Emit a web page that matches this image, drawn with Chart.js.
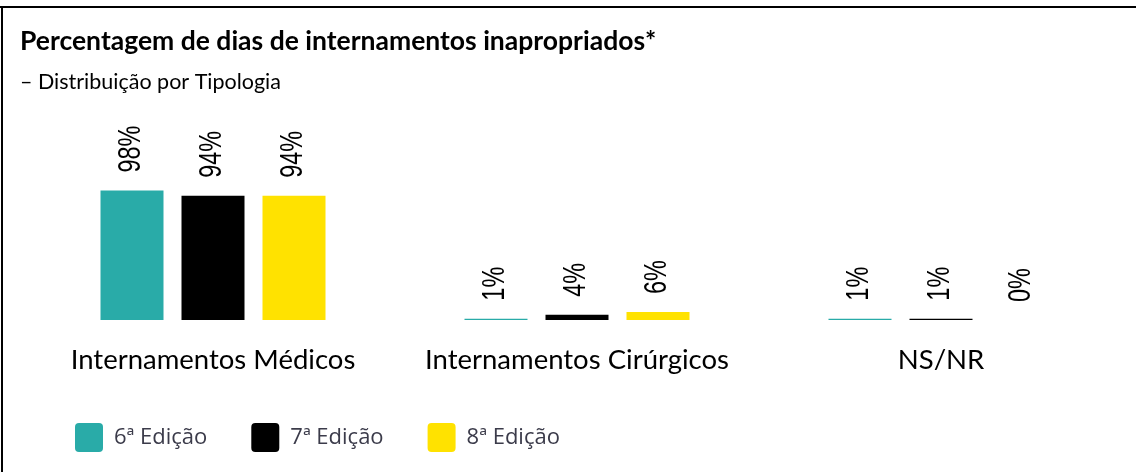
<!DOCTYPE html>
<html lang="pt">
<head>
<meta charset="utf-8">
<title>Percentagem de dias de internamentos inapropriados</title>
<script src="https://cdn.jsdelivr.net/npm/chart.js@4.4.1/dist/chart.umd.min.js"></script>
<style>
  html, body { margin: 0; padding: 0; background: #fff; }
  #grafico { display: block; }
</style>
</head>
<body>
<canvas id="grafico" width="1136" height="472"></canvas>
<script>
// ------------------------------------------------------------
// Dados
// ------------------------------------------------------------
var categorias = ["Internamentos Médicos", "Internamentos Cirúrgicos", "NS/NR"];
var edicoes = ["6ª Edição", "7ª Edição", "8ª Edição"];
var edicao6 = [98, 1, 1];
var edicao7 = [94, 4, 1];
var edicao8 = [94, 6, 0];
var cores = ["#29aba8", "#000000", "#ffe200"];

var series = [edicao6, edicao7, edicao8];

// ------------------------------------------------------------
// Moldura (linha superior e lateral esquerda)
// ------------------------------------------------------------
var molduraPlugin = {
	id: "moldura",
	beforeDraw: function (chart) {
		var ctx = chart.ctx;
		ctx.save();
		ctx.fillStyle = "#ffffff";
		ctx.fillRect(0, 0, chart.width, chart.height);
		ctx.fillStyle = "#000000";
		ctx.fillRect(0, 6, chart.width, 2);
		ctx.fillRect(1, 6, 2, chart.height - 6);
		ctx.restore();
	}
};

// ------------------------------------------------------------
// Rótulos verticais com a percentagem por cima de cada barra
// ------------------------------------------------------------
var rotulosPlugin = {
	id: "rotulos",
	afterDatasetsDraw: function (chart) {
		var ctx = chart.ctx;
		ctx.save();
		ctx.font = '23.5px "Liberation Sans", Arial, sans-serif';
		ctx.fillStyle = "#000000";
		ctx.textAlign = "left";
		ctx.textBaseline = "middle";
		chart.data.datasets.forEach(function (ds, i) {
			chart.getDatasetMeta(i).data.forEach(function (bar, j) {
				ctx.save();
				ctx.translate(bar.x, bar.y - 18);
				ctx.rotate(-Math.PI / 2);
				ctx.scale(1, 1.3);
				ctx.fillText(ds.data[j] + "%", 0, 0);
				ctx.restore();
			});
		});
		ctx.restore();
	}
};

var datasets = edicoes.map(function (nome, i) {
	return {
		label: nome,
		data: series[i],
		backgroundColor: cores[i],
		borderWidth: 0
	};
});

new Chart(document.getElementById("grafico"), {
	type: "bar",
	data: {
		labels: categorias,
		datasets: datasets
	},
	options: {
		responsive: false,
		animation: false,
		layout: { padding: { top: 0, left: 20, right: 13, bottom: 10 } },
		datasets: {
			bar: { categoryPercentage: 0.6676, barPercentage: 0.7778 }
		},
		scales: {
			x: {
				grid: { display: false, drawTicks: false },
				border: { display: false },
				ticks: {
					color: "#000000",
					padding: 21,
					font: { family: "Lato", size: 27.5, lineHeight: 1.38 }
				},
				afterFit: function (scale) { scale.height = 59; }
			},
			y: {
				min: 0,
				max: 160,
				grid: { display: false, drawTicks: false },
				border: { display: false },
				ticks: { display: false },
				afterFit: function (scale) { scale.width = 11; }
			}
		},
		plugins: {
			title: {
				display: true,
				text: "Percentagem de dias de internamentos inapropriados*",
				align: "start",
				color: "#000000",
				font: { family: "Lato", size: 26.5, weight: "bold" },
				padding: { top: 26, bottom: 6 }
			},
			subtitle: {
				display: true,
				text: "– Distribuição por Tipologia",
				align: "start",
				color: "#000000",
				font: { family: "Lato", size: 21.5 },
				padding: { top: 5, bottom: 14 }
			},
			legend: {
				position: "bottom",
				align: "start",
				fullSize: false,
				labels: {
					boxWidth: 28,
					boxHeight: 29,
					padding: 44,
					useBorderRadius: true,
					borderRadius: 4,
					color: "#3b3b4a",
					font: { family: "Open Sans", size: 22 }
				}
			},
			tooltip: { enabled: false }
		}
	},
	plugins: [molduraPlugin, rotulosPlugin]
});
</script>
</body>
</html>
